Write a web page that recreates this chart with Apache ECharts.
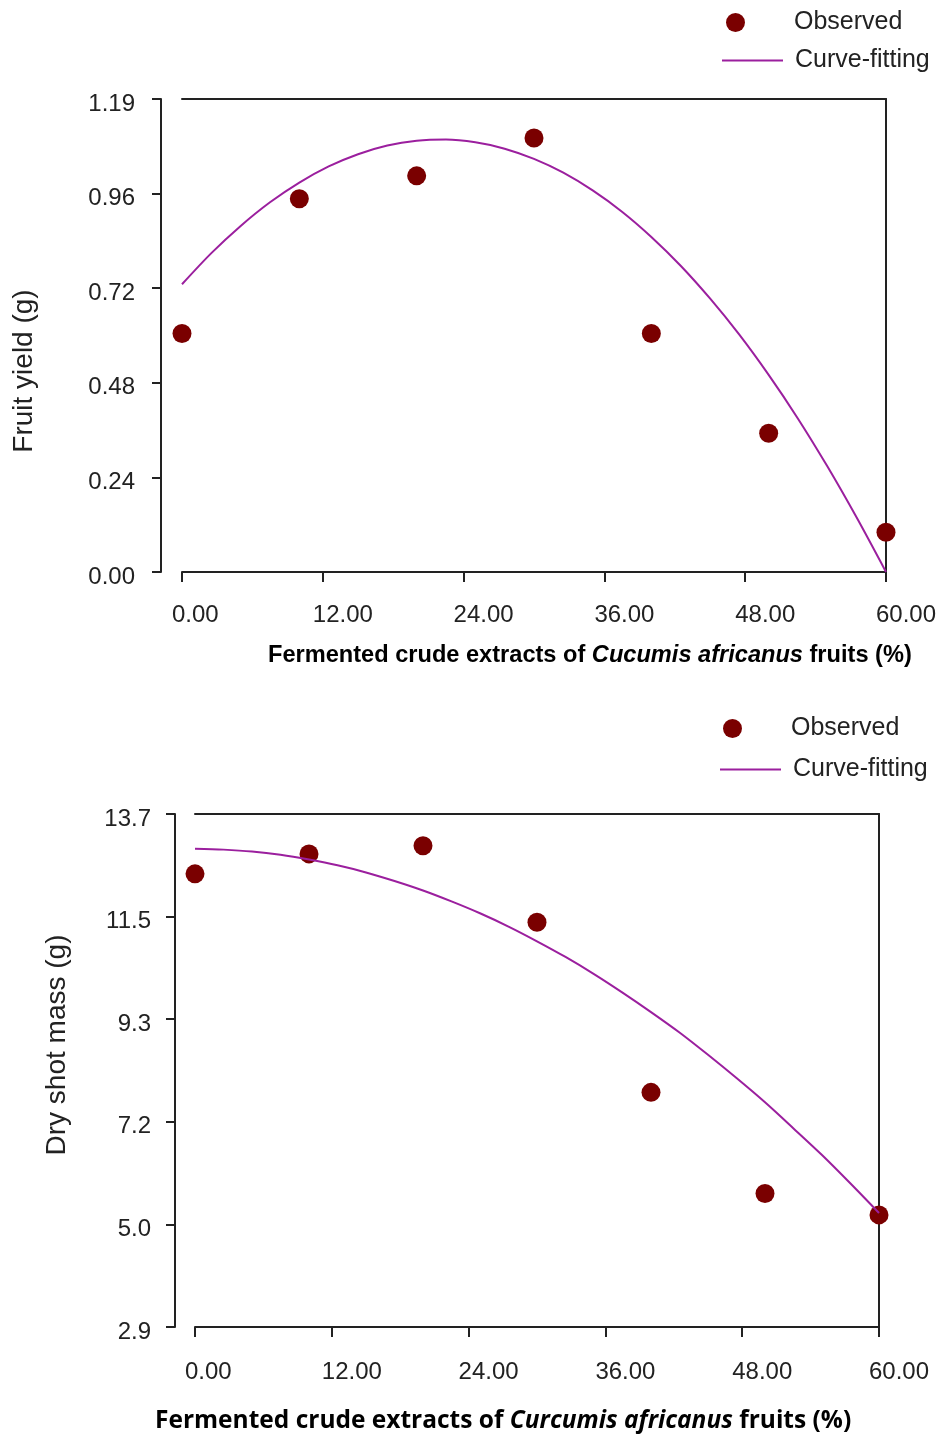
<!DOCTYPE html>
<html>
<head>
<meta charset="utf-8">
<script src="https://cdn.jsdelivr.net/npm/echarts@6/dist/echarts.min.js"></script>
<style>
html, body { margin: 0; padding: 0; background: #fff; }
#main { width: 942px; height: 1437px; }
</style>
</head>
<body>
<div id="main"></div>
<script>
// doses of fermented crude extract (%)
var doses = [0, 10, 20, 30, 40, 50, 60];
var xTickLabels = ['0.00', '12.00', '24.00', '36.00', '48.00', '60.00'];

var curveX = [0, 2.5, 5, 7.5, 10, 12.5, 15, 17.5, 20, 22.5, 25, 27.5, 30,
    32.5, 35, 37.5, 40, 42.5, 45, 47.5, 50, 52.5, 55, 57.5, 60];

// top chart: fruit yield (g)
var yieldObserved = [0.605, 0.947, 1.005, 1.101, 0.605, 0.352, 0.101];
var yieldCurve = [0.73, 0.809, 0.878, 0.938, 0.988, 1.029, 1.06, 1.082, 1.094, 1.097, 1.09, 1.074, 1.048,
    1.013, 0.968, 0.914, 0.85, 0.777, 0.694, 0.602, 0.5, 0.389, 0.268, 0.138, 0];
var yieldTickLabels = ['0.00', '0.24', '0.48', '0.72', '0.96', '1.19'];

// bottom chart: dry shot mass (g)
var massObserved = [12.44, 12.86, 13.03, 11.42, 7.84, 5.71, 5.26];
var massCurve = [12.97, 12.95, 12.91, 12.84, 12.74, 12.62, 12.47, 12.29, 12.09, 11.86, 11.61, 11.33, 11.02,
    10.69, 10.33, 9.94, 9.53, 9.1, 8.63, 8.14, 7.63, 7.08, 6.52, 5.92, 5.3];
var massTickLabels = ['2.9', '5.0', '7.2', '9.3', '11.5', '13.7'];

var dotColor = '#7a0000';
var curveColor = '#9b1f9e';
var inkColor = '#222';
var font = 'Liberation Sans, Arial, sans-serif';

function pairs(xs, ys) {
    return xs.map(function (x, i) { return [x, ys[i]]; });
}

function mainX(grid) {
    return {
        gridIndex: grid, type: 'value', min: 0, max: 60, interval: 12,
        axisLine: { onZero: false, lineStyle: { color: inkColor, width: 2 } },
        axisTick: { length: 10, lineStyle: { color: inkColor, width: 2 } },
        axisLabel: { show: false },
        splitLine: { show: false }
    };
}
function frameX(grid) {
    return {
        gridIndex: grid, type: 'value', position: 'top', min: 0, max: 60,
        axisLine: { onZero: false, lineStyle: { color: inkColor, width: 2 } },
        axisTick: { show: false }, axisLabel: { show: false }, splitLine: { show: false }
    };
}
// label-only axis on a grid shifted 10px left, so labels start just left of each tick
function labelX(grid, margin) {
    return {
        gridIndex: grid, type: 'value', min: 0, max: 60, interval: 12,
        axisLine: { show: false, onZero: false }, axisTick: { show: false }, splitLine: { show: false },
        axisLabel: {
            margin: margin, align: 'left', fontFamily: font, fontSize: 24, color: inkColor,
            showMinLabel: true, showMaxLabel: true,
            formatter: function (v) { return xTickLabels[Math.round(v / 12)]; }
        }
    };
}
function frameY(grid, min, max) {
    return {
        gridIndex: grid, type: 'value', position: 'right', min: min, max: max,
        axisLine: { show: true, onZero: false, lineStyle: { color: inkColor, width: 2 } },
        axisTick: { show: false }, axisLabel: { show: false }, splitLine: { show: false }
    };
}
function hiddenY(grid) {
    return { gridIndex: grid, type: 'value', show: false, min: 0, max: 1 };
}
function legendDot(left, top) {
    return {
        data: ['Observed'], left: left, top: top, padding: 0, itemWidth: 19, itemHeight: 19,
        textStyle: { fontFamily: font, fontSize: 25, color: inkColor, padding: [0, 0, 0, 44] }
    };
}
function legendLine(left, top) {
    return {
        data: [{ name: 'Curve-fitting', icon: 'rect' }], left: left, top: top, padding: 0,
        itemWidth: 61, itemHeight: 2,
        textStyle: { fontFamily: font, fontSize: 25, color: inkColor, padding: [0, 0, 0, 7] }
    };
}

var option = {
    animation: false,
    backgroundColor: '#fff',
    grid: [
        { left: 182, right: 56, top: 99, bottom: 865 },
        { left: 172, right: 66, top: 99, bottom: 865 },
        { left: 195, right: 63, top: 814, bottom: 110 },
        { left: 185, right: 73, top: 814, bottom: 110 }
    ],
    legend: [
        legendDot(726, 10), legendLine(722, 48),
        legendDot(723, 716), legendLine(720, 757)
    ],
    xAxis: [
        mainX(0), frameX(0), labelX(1, 31),
        mainX(2), frameX(2), labelX(3, 33)
    ],
    yAxis: [
        {
            gridIndex: 0, type: 'value', min: 0, max: 1.2, interval: 0.24, offset: 21,
            axisLine: { show: true, onZero: false, lineStyle: { color: inkColor, width: 2 } },
            axisTick: { show: true, length: 9, lineStyle: { color: inkColor, width: 2 } },
            axisLabel: {
                margin: 26, fontFamily: font, fontSize: 24, color: inkColor,
                verticalAlign: 'top', lineHeight: 10,
                formatter: function (v) { return yieldTickLabels[Math.round(v / 0.24)]; }
            },
            splitLine: { show: false }
        },
        frameY(0, 0, 1.2),
        hiddenY(1),
        {
            gridIndex: 2, type: 'value', min: 2.9, max: 13.7, interval: 2.16, offset: 20,
            axisLine: { show: true, onZero: false, lineStyle: { color: inkColor, width: 2 } },
            axisTick: { show: true, length: 9, lineStyle: { color: inkColor, width: 2 } },
            axisLabel: {
                margin: 24, fontFamily: font, fontSize: 24, color: inkColor,
                verticalAlign: 'top', lineHeight: 10,
                formatter: function (v) { return massTickLabels[Math.round((v - 2.9) / 2.16)]; }
            },
            splitLine: { show: false }
        },
        frameY(2, 2.9, 13.7),
        hiddenY(3)
    ],
    graphic: [
        {
            type: 'text', x: 24, y: 371, rotation: Math.PI / 2,
            style: { text: 'Fruit yield (g)', fontFamily: font, fontSize: 28, fill: inkColor, align: 'center', verticalAlign: 'middle' }
        },
        {
            type: 'text', x: 57, y: 1045, rotation: Math.PI / 2,
            style: { text: 'Dry shot mass (g)', fontFamily: font, fontSize: 28, fill: inkColor, align: 'center', verticalAlign: 'middle' }
        },
        {
            type: 'text', x: 268, y: 655,
            style: {
                text: '{b|Fermented crude extracts of }{i|Cucumis africanus}{b| fruits (%)}',
                verticalAlign: 'middle',
                rich: {
                    b: { fontFamily: font, fontSize: 23.6, fontWeight: 'bold', fill: '#000' },
                    i: { fontFamily: font, fontSize: 23.6, fontWeight: 'bold', fontStyle: 'italic', fill: '#000' }
                }
            }
        },
        {
            type: 'text', x: 155, y: 1421,
            style: {
                text: '{b|Fermented crude extracts of }{i|Curcumis africanus}{b| fruits (%)}',
                verticalAlign: 'middle',
                rich: {
                    b: { fontFamily: 'Open Sans, sans-serif', fontSize: 24.5, fontWeight: 'bold', fill: '#000' },
                    i: { fontFamily: 'Open Sans, sans-serif', fontSize: 24.5, fontWeight: 'bold', fontStyle: 'italic', fill: '#000' }
                }
            }
        }
    ],
    series: [
        {
            name: 'Curve-fitting', type: 'line', xAxisIndex: 0, yAxisIndex: 0,
            data: pairs(curveX, yieldCurve), smooth: 0.3, symbol: 'none',
            lineStyle: { color: curveColor, width: 2 }, itemStyle: { color: curveColor }
        },
        {
            name: 'Observed', type: 'scatter', xAxisIndex: 0, yAxisIndex: 0,
            data: pairs(doses, yieldObserved), symbol: 'circle', symbolSize: 19, clip: false,
            itemStyle: { color: dotColor, opacity: 1 }
        },
        {
            name: 'Curve-fitting', type: 'line', xAxisIndex: 3, yAxisIndex: 3,
            data: pairs(curveX, massCurve), smooth: 0.3, symbol: 'none',
            lineStyle: { color: curveColor, width: 2 }, itemStyle: { color: curveColor }
        },
        {
            name: 'Observed', type: 'scatter', xAxisIndex: 3, yAxisIndex: 3,
            data: pairs(doses, massObserved), symbol: 'circle', symbolSize: 19, clip: false,
            itemStyle: { color: dotColor, opacity: 1 }
        }
    ]
};

var chart = echarts.init(document.getElementById('main'));
chart.setOption(option);
</script>
</body>
</html>
